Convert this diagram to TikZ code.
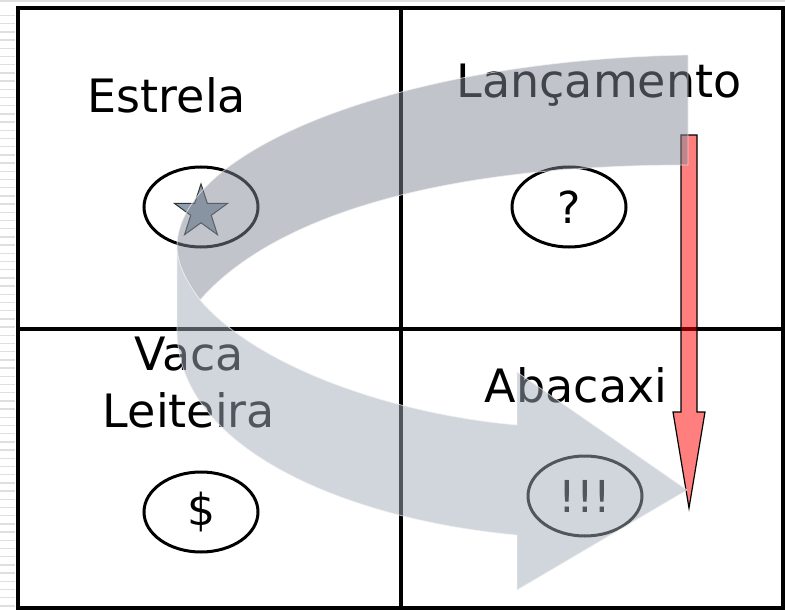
\documentclass[tikz,border=0pt]{standalone}
\usepackage{fontspec}
\setmainfont{DejaVu Sans}
\usepackage{tikz}
\usetikzlibrary{shapes.geometric}

\definecolor{bandback}{HTML}{838B97}
\definecolor{bandfront}{HTML}{A3ADBB}
\definecolor{stargray}{HTML}{8F9EAE}

\tikzset{
  quad/.style={font=\fontsize{46}{57}\selectfont, anchor=base, inner sep=0pt},
  oval/.style={draw, ellipse, line width=3pt, minimum width=114pt, minimum height=80pt, inner sep=0pt, font=\fontsize{44}{50}\selectfont},
  band/.style={fill opacity=0.5, draw=white!90!gray, draw opacity=0.7, line width=0.8pt}
}

\begin{document}
\begin{tikzpicture}[x=1pt,y=-1pt]
\useasboundingbox (0,0) rectangle (785,610);

% fundo do slide
\fill[gray!25] (0,0) rectangle (785,2);
\foreach \k in {0,...,72}
  \draw[gray!25,line width=1.5pt] (0,{15.5+8.2*\k}) -- (15,{15.5+8.2*\k});

% matriz
\draw[line width=4pt] (17.5,8) rectangle (783,608);
\draw[line width=4pt] (400.5,8) -- (400.5,608);
\draw[line width=4pt] (17.5,328.5) -- (783,328.5);

\node[quad] (estrela) at (167,112) {Estrela};
\node[quad] (lancamento) at (599,97) {Lançamento};
\node[quad,align=center] (vaca) at (189,427) {Vaca\\Leiteira};
\node[quad] (abacaxi) at (576,402) {Abacaxi};

\node[oval] (oestrela) at (201,207) {};
\node[oval] (olancamento) at (569,207) {?};
\node[oval] (ovaca) at (201,512) {\$};
\node[oval] (oabacaxi) at (585,496) {!!!};
\node[star,star points=5,star point ratio=2.6,minimum size=56pt,inner sep=0pt,
  fill=stargray,draw=black!80,line width=1pt] (estrelinha) at (201,212) {};

% seta vermelha
\filldraw[fill=red,fill opacity=0.5,draw=black,line width=1.2pt]
  (681,135) -- (697,135) -- (697,412) -- (705,412) -- (689,508)
  -- (673,412) -- (681,412) -- cycle;

% seta curva
\filldraw[band,fill=bandback] (688,55) -- (688,165)
  .. controls (430,165) and (270,220) .. (200,300)
  .. controls (185,280) and (177,262) .. (177,247)
  .. controls (177,150) and (400,60) .. (688,55) -- cycle;
\filldraw[band,fill=bandfront] (177,247) -- (177,330)
  .. controls (177,450) and (350,520) .. (517,535)
  -- (517,590) -- (687,490) -- (517,372) -- (517,425)
  .. controls (400,415) and (260,370) .. (200,300)
  .. controls (185,280) and (177,262) .. (177,247) -- cycle;

\end{tikzpicture}
\end{document}
